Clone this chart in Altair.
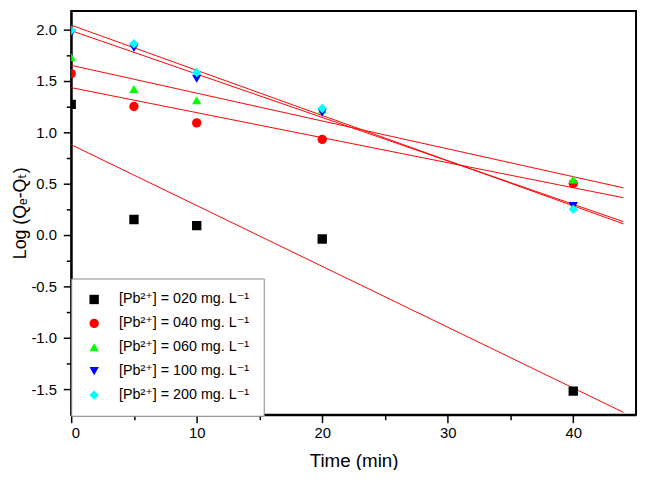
import altair as alt
import pandas as pd

# ---- data ----
time_min = [0, 5, 10, 20, 40]
series_labels = [
    "[Pb²⁺] = 020 mg. L⁻¹",
    "[Pb²⁺] = 040 mg. L⁻¹",
    "[Pb²⁺] = 060 mg. L⁻¹",
    "[Pb²⁺] = 100 mg. L⁻¹",
    "[Pb²⁺] = 200 mg. L⁻¹",
]
log_020 = [1.27, 0.15, 0.09, -0.04, -1.52]
log_040 = [1.57, 1.25, 1.09, 0.93, 0.50]
log_060 = [1.73, 1.42, 1.31, 1.22, 0.54]
log_100 = [1.96, 1.82, 1.52, 1.19, 0.28]
log_200 = [1.99, 1.86, 1.58, 1.23, 0.25]

x_ticks = [0, 5, 10, 15, 20, 25, 30, 35, 40]
y_ticks = [-1.5, -1.25, -1.0, -0.75, -0.5, -0.25, 0.0, 0.25, 0.5, 0.75,
           1.0, 1.25, 1.5, 1.75, 2.0]

series_colors = ["#000000", "#ff0000", "#00ff00", "#0000ff", "#00ffff"]
series_shapes = ["square", "circle", "triangle-up", "triangle-down", "diamond"]

rows = []
for lab, vals in zip(series_labels, [log_020, log_040, log_060, log_100, log_200]):
    for t, v in zip(time_min, vals):
        rows.append({"series": lab, "t": t, "v": v})
df = pd.DataFrame(rows)

FONT = "Liberation Sans, Arial, DejaVu Sans, sans-serif"

x_scale = alt.Scale(domain=[0, 45], nice=False, zero=False)
y_scale = alt.Scale(domain=[-1.75, 2.18], nice=False, zero=False)

x_axis = alt.Axis(
    title="Time (min)",
    values=x_ticks,
    labelExpr="datum.value % 10 == 0 ? datum.label : ''",
    format="d",
    tickSize={"condition": {"test": "datum.value % 10 == 0", "value": 8}, "value": 5},
    labelPadding=3,
    titleY=52,
    titleBaseline="alphabetic",
)
y_axis = alt.Axis(
    title="Log (Qₑ-Qₜ)",
    values=y_ticks,
    labelExpr="abs(round(datum.value*4)) % 2 == 0 ? replace(format(datum.value, '.1f'), '−', '-') : ''",
    tickSize={"condition": {"test": "abs(round(datum.value*4)) % 2 == 0", "value": 8}, "value": 5},
    labelPadding=7,
    titleX=-46,
    titleFontSize=18,
    titleBaseline="alphabetic",
)

legend = alt.Legend(
    title=None,
    orient="none",
    legendX=0,
    legendY=271,
    fillColor="white",
    strokeColor="#888888",
    padding=14,
    labelFontSize=14.5,
    labelFont=FONT,
    labelColor="black",
    symbolSize=90,
    rowPadding=9.2,
    labelOffset=18,
    symbolOffset=2,
)

base = alt.Chart(df)

lines = base.transform_regression(
    "t", "v", groupby=["series"], extent=[0, 44]
).mark_line(color="#ff0000", strokeWidth=1).encode(
    x=alt.X("t:Q", scale=x_scale, axis=x_axis),
    y=alt.Y("v:Q", scale=y_scale, axis=y_axis),
    detail="series:N",
)

points = base.mark_point(filled=True, size=90, opacity=1, clip=True).encode(
    x=alt.X("t:Q", scale=x_scale, axis=x_axis),
    y=alt.Y("v:Q", scale=y_scale, axis=y_axis),
    color=alt.Color("series:N",
                    scale=alt.Scale(domain=series_labels, range=series_colors),
                    legend=legend),
    shape=alt.Shape("series:N",
                    scale=alt.Scale(domain=series_labels, range=series_shapes),
                    legend=legend),
)

chart = alt.layer(lines, points).properties(
    width=572,
    height=409,
    autosize=alt.AutoSizeParams(type="none"),
    padding={"left": 64, "top": 0, "right": 2, "bottom": 53},
).configure_view(
    stroke="black", strokeWidth=2
).configure_axis(
    domainColor="black", domainWidth=2,
    tickColor="black", tickWidth=1.5,
    labelColor="black", titleColor="black",
    labelFont=FONT, titleFont=FONT,
    labelFontSize=15, titleFontSize=19, titleFontWeight="normal",
    grid=False,
)

chart.save("out.html", embed_options={"renderer": "svg", "actions": False})
